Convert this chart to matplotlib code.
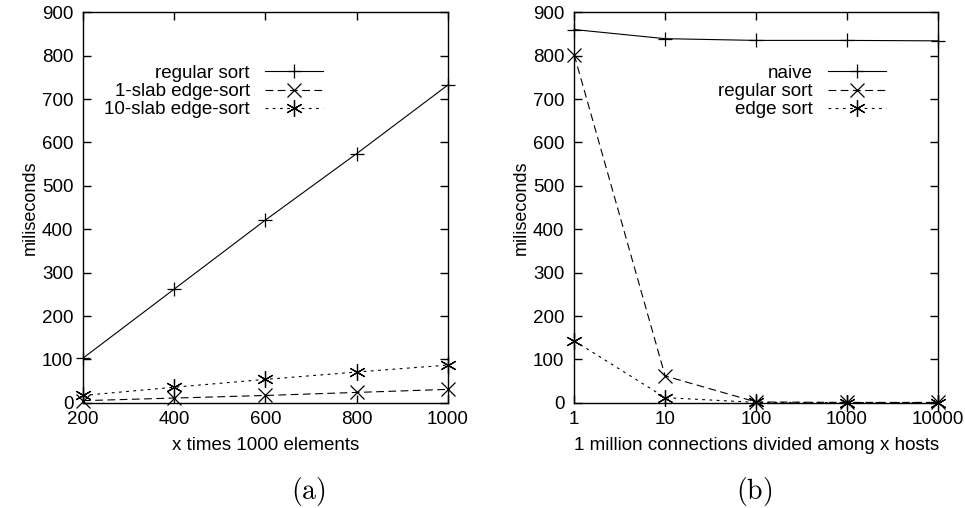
import matplotlib
matplotlib.use("Agg")
import matplotlib.pyplot as plt

plt.rcParams["font.family"] = ["Liberation Sans", "DejaVu Sans"]
plt.rcParams["mathtext.fontset"] = "cm"

# (a) sorting time vs. number of elements
elements = [200, 400, 600, 800, 1000]
regular_a = [103, 262, 421, 574, 732]
slab1_a = [5, 11, 17, 24, 31]
slab10_a = [17, 36, 54, 71, 87]

# (b) 1 million connections divided among x hosts
hosts = [1, 10, 100, 1000, 10000]
naive_b = [860, 839, 835, 835, 834]
regular_b = [802, 62, 2, 1, 1]
edge_b = [143, 12, 1, 0.5, 0.5]

asterisk = (6, 2, 0)
dashed = (7, 4)
dotted = (2.5, 4)


def style_axes(ax):
    ax.set_ylim(0, 900)
    ax.set_yticks(range(0, 901, 100))
    ax.tick_params(direction="in", top=True, right=True, length=6, width=1,
                   labelsize=13.5, pad=6)
    ax.tick_params(axis="y", pad=7)
    for s in ax.spines.values():
        s.set_linewidth(1.0)
    ax.set_ylabel("miliseconds", fontsize=13, labelpad=2)


fig = plt.figure(figsize=(9.65, 5.08), dpi=100)
ax1 = fig.add_axes([0.086, 0.207, 0.378, 0.769])
ax2 = fig.add_axes([0.595, 0.207, 0.377, 0.769])

kw = dict(color="black", lw=0.8, ms=10, mew=0.9, clip_on=False)
ax1.plot(elements, regular_a, marker="+", label="regular sort", **kw)
ax1.plot(elements, slab1_a, marker="x", dashes=dashed, label="1-slab edge-sort", **kw)
ax1.plot(elements, slab10_a, marker=asterisk, dashes=dotted, label="10-slab edge-sort",
         **{**kw, "ms": 12})
ax1.set_xlim(200, 1000)
ax1.set_xticks(elements)
style_axes(ax1)
ax1.set_xlabel("x times 1000 elements", fontsize=13.5, labelpad=6)

ax2.plot(hosts, naive_b, marker="+", label="naive", **kw)
ax2.plot(hosts, regular_b, marker="x", dashes=dashed, label="regular sort", **kw)
ax2.plot(hosts, edge_b, marker=asterisk, dashes=dotted, label="edge sort",
         **{**kw, "ms": 12})
ax2.set_xscale("log")
ax2.set_xlim(1, 10000)
ax2.set_xticks(hosts)
ax2.set_xticklabels([str(h) for h in hosts])
ax2.minorticks_off()
style_axes(ax2)
ax2.set_xlabel("1 million connections divided among x hosts", fontsize=13.5, labelpad=6)

leg_kw = dict(loc="upper right", frameon=False, markerfirst=False, fontsize=13.5,
              handlelength=3.1, handletextpad=0.8, labelspacing=0.05,
              borderpad=0, borderaxespad=0, numpoints=1)
ax1.legend(bbox_to_anchor=(0.658, 0.865), **leg_kw)
ax2.legend(bbox_to_anchor=(0.857, 0.865), **leg_kw)

fig.text(0.320, 1 - 491 / 508, r"$\mathrm{(a)}$", fontsize=20, ha="center", va="center")
fig.text(0.782, 1 - 491 / 508, r"$\mathrm{(b)}$", fontsize=20, ha="center", va="center")

fig.savefig("out.png", dpi=100)
